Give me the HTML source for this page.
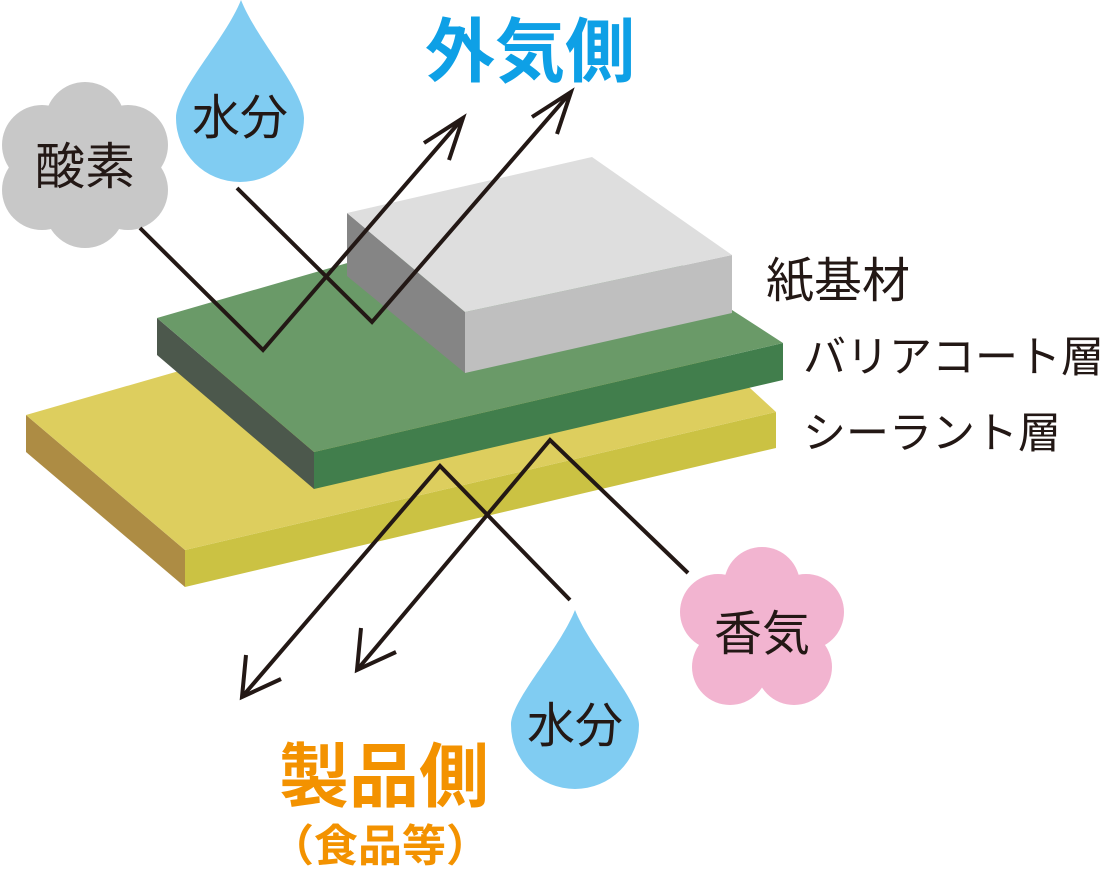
<!DOCTYPE html>
<html><head><meta charset="utf-8"><style>
html,body{margin:0;padding:0;background:#fff;}
svg{display:block;}
text{font-family:"Liberation Sans","Noto Sans CJK JP",sans-serif;}
</style></head><body>
<svg width="1102" height="872" viewBox="0 0 1102 872" xmlns="http://www.w3.org/2000/svg">
<polygon points="26,415 26,452 185,587 185,550" fill="#ad8c44"/>
<polygon points="185,550 776,412 776,448 185,587" fill="#cbc243"/>
<polygon points="26,415 600,250 763,400 776,412 185,550" fill="#ddce5e"/>
<polygon points="157,318 157,355 314,489 314,452" fill="#4c584c"/>
<polygon points="314,452 783,343 783,380 314,489" fill="#417e4c"/>
<polygon points="157,318 600,190 732,310 783,343 314,452" fill="#6a9a68"/>
<polygon points="347,213 465,312 465,373 347,276" fill="#858585"/>
<polygon points="465,312 732,255 732,313 465,373" fill="#bfbfbf"/>
<polygon points="347,213 592,157 732,255 465,312" fill="#dedede"/>
<g fill="#c8c8c8">
<circle cx="85" cy="165" r="64"/>
<circle cx="85" cy="122" r="40"/>
<circle cx="85" cy="208" r="40"/>
<circle cx="42" cy="145" r="40"/>
<circle cx="128" cy="145" r="40"/>
<circle cx="42" cy="190" r="40"/>
<circle cx="128" cy="190" r="40"/>
</g>
<text x="85" y="184" font-size="50" text-anchor="middle" fill="#231815">酸素</text>
<path d="M241,0 C225,40 176,90 176,118 A64,64 0 0 0 304,118 C304,90 257,40 241,0 Z" fill="#80ccf2"/>
<text x="240" y="134" font-size="48" text-anchor="middle" fill="#231815">水分</text>
<g fill="#f2b4d0">
<circle cx="762" cy="630" r="57"/>
<circle cx="762" cy="585" r="38"/>
<circle cx="718" cy="612" r="38"/>
<circle cx="806" cy="612" r="38"/>
<circle cx="730" cy="667" r="38"/>
<circle cx="794" cy="667" r="38"/>
</g>
<text x="762" y="650" font-size="48" text-anchor="middle" fill="#231815">香気</text>
<path d="M575,610 C559,650 511,700 511,725 A64,64 0 0 0 639,725 C639,700 591,650 575,610 Z" fill="#80ccf2"/>
<text x="575" y="742" font-size="48" text-anchor="middle" fill="#231815">水分</text>
<g stroke="#231815" stroke-width="4" fill="none" stroke-linejoin="miter">
<polyline points="140,228 263,350 463,118"/>
<polyline points="424,143 463,118 449,160"/>
<polyline points="237,188 372,322 571,92"/>
<polyline points="532,117 571,92 557,134"/>
<polyline points="688,573 550,440 357,670"/>
<polyline points="361,628 357,670 396,652"/>
<polyline points="570,600 440,466 242,697"/>
<polyline points="246,655 242,697 281,679"/>
</g>
<text x="530" y="76" font-size="70" font-weight="bold" text-anchor="middle" fill="#0ea0e6">外気側</text>
<text x="384" y="801" font-size="70" font-weight="bold" text-anchor="middle" fill="#f39200">製品側</text>
<text x="380" y="861" font-size="44" font-weight="bold" text-anchor="middle" fill="#f39200">（食品等）</text>
<g fill="#231815">
<text x="766" y="297" font-size="48">紙基材</text>
<text x="803" y="372" font-size="43">バリアコート層</text>
<text x="803" y="448" font-size="43">シーラント層</text>
</g>
</svg>
</body></html>
